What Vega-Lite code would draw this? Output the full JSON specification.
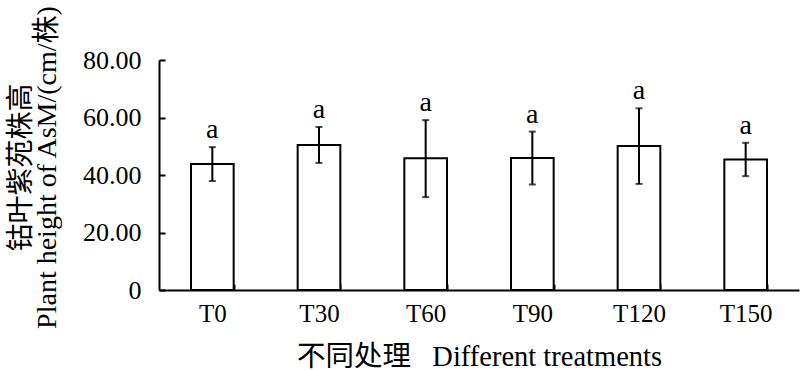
{
  "$schema": "https://vega.github.io/schema/vega-lite/v6.json",
  "autosize": "none",
  "padding": {"left": 159, "top": 60, "right": 1, "bottom": 80},
  "width": 640,
  "height": 230,
  "background": "white",
  "config": {
    "view": {"stroke": null},
    "font": "Liberation Serif",
    "axis": {"domainColor": "black", "tickColor": "black", "labelColor": "black", "titleColor": "black", "grid": false, "domainWidth": 2, "tickWidth": 2, "labelFont": "Liberation Serif", "titleFont": "Liberation Serif, Noto Sans CJK SC", "titleFontWeight": "normal"}
  },
  "data": {"values": [
    {"trt": "T0", "mean": 43.8, "lo": 37.9, "hi": 49.7, "letter": "a"},
    {"trt": "T30", "mean": 50.4, "lo": 44.2, "hi": 56.7, "letter": "a"},
    {"trt": "T60", "mean": 45.8, "lo": 32.3, "hi": 59.1, "letter": "a"},
    {"trt": "T90", "mean": 45.9, "lo": 36.7, "hi": 55.1, "letter": "a"},
    {"trt": "T120", "mean": 50.1, "lo": 36.9, "hi": 63.2, "letter": "a"},
    {"trt": "T150", "mean": 45.4, "lo": 39.6, "hi": 51.2, "letter": "a"}
  ]},
  "encoding": {
    "x": {"field": "trt", "type": "nominal", "sort": null,
      "scale": {"paddingInner": 0.6, "paddingOuter": 0.3},
      "axis": {"title": "不同处理\u00a0\u00a0 Different treatments", "labelAngle": 0, "labelFont": "Liberation Serif", "labelFontSize": 25, "labelPadding": 17, "tickSize": -6, "tickBand": "extent", "titleFontSize": 28.5, "titleY": 66, "titleBaseline": "middle"}}
  },
  "layer": [
    {"mark": {"type": "bar", "fill": "white", "stroke": "black", "strokeWidth": 2},
     "encoding": {"y": {"field": "mean", "type": "quantitative",
       "scale": {"domain": [0, 80]},
       "axis": {"title": ["钴叶紫苑株高", "Plant height of AsM/(cm/株)"], "values": [0, 20, 40, 60, 80], "labelExpr": "datum.value == 0 ? '0' : format(datum.value, '.2f')", "labelFont": "Liberation Serif", "labelFontSize": 26, "labelPadding": 24, "tickSize": -6, "titleFontSize": 28, "titleLineHeight": 26, "titleBaseline": "middle", "titleX": -138, "titleY": 107}}}},
    {"mark": {"type": "rule", "stroke": "black", "strokeWidth": 2},
     "encoding": {"y": {"field": "lo", "type": "quantitative"}, "y2": {"field": "hi"}}},
    {"mark": {"type": "tick", "orient": "horizontal", "color": "black", "thickness": 2, "size": 7},
     "encoding": {"y": {"field": "lo", "type": "quantitative"}}},
    {"mark": {"type": "tick", "orient": "horizontal", "color": "black", "thickness": 2, "size": 7},
     "encoding": {"y": {"field": "hi", "type": "quantitative"}}},
    {"mark": {"type": "text", "font": "Liberation Serif", "fontSize": 28, "baseline": "alphabetic", "dy": -9, "color": "black"},
     "encoding": {"y": {"field": "hi", "type": "quantitative"}, "text": {"field": "letter"}}}
  ]
}
